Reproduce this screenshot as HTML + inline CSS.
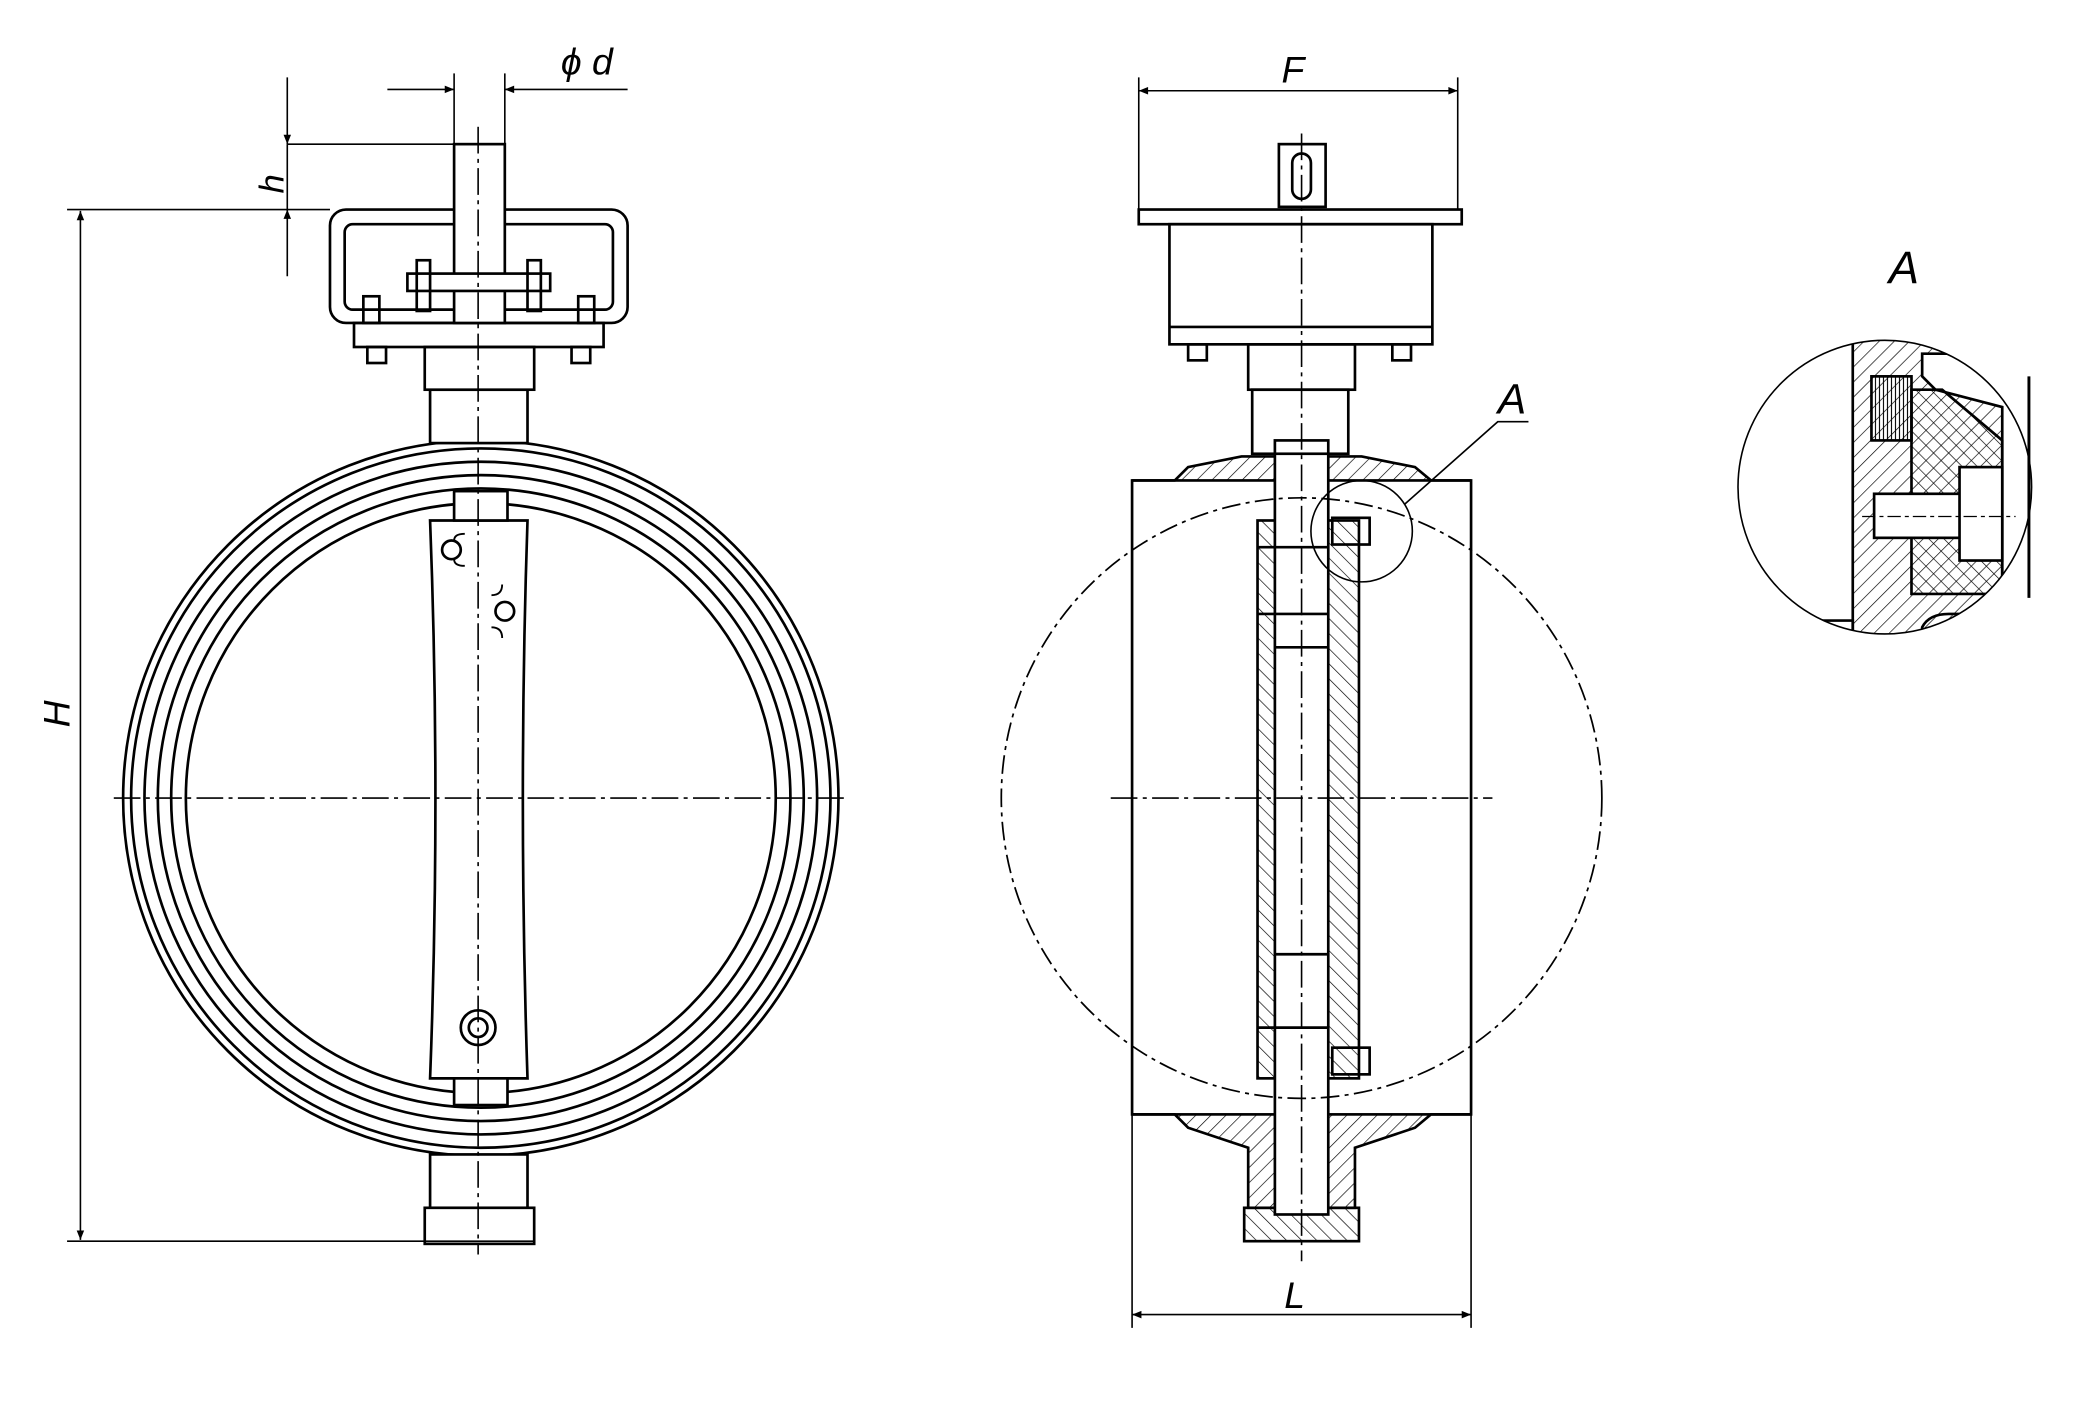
<!DOCTYPE html>
<html><head><meta charset="utf-8"><style>
html,body{margin:0;padding:0;background:#fff;}
svg{display:block;}
text{font-family:"Liberation Sans",sans-serif;font-style:italic;fill:#000;}
</style></head><body>
<svg width="2092" height="1404" viewBox="0 0 1567 1052" xmlns="http://www.w3.org/2000/svg">
<defs>
<pattern id="h1" width="8" height="8" patternUnits="userSpaceOnUse" patternTransform="rotate(45)"><line x1="0" y1="0" x2="0" y2="8" stroke="#000" stroke-width="1"/></pattern>
<pattern id="h2" width="8" height="8" patternUnits="userSpaceOnUse" patternTransform="rotate(-45)"><line x1="0" y1="0" x2="0" y2="8" stroke="#000" stroke-width="1"/></pattern>
<pattern id="hv" width="3" height="8" patternUnits="userSpaceOnUse"><line x1="1" y1="0" x2="1" y2="8" stroke="#000" stroke-width="0.8"/></pattern>
<marker id="ar" viewBox="0 0 10 10" refX="10" refY="5" markerWidth="18" markerHeight="7" markerUnits="userSpaceOnUse" orient="auto-start-reverse"><path d="M0,1 L10,5 L0,9 z" fill="#000"/></marker>
<clipPath id="dc"><circle cx="1412" cy="365" r="110"/></clipPath>
</defs>
<rect width="1567" height="1052" fill="#fff"/>
<g fill="none" stroke="#000" stroke-width="2">
<!-- LEFT VIEW -->
<circle cx="360" cy="598" r="268"/>
<circle cx="360" cy="598" r="262"/>
<circle cx="360" cy="598" r="252"/>
<circle cx="360" cy="598" r="242"/>
<circle cx="360" cy="598" r="232"/>
<circle cx="360" cy="598" r="221"/>
<rect x="322" y="292" width="73" height="40" fill="#fff"/>
<rect x="318" y="260" width="82" height="32" fill="#fff"/>
<rect x="265" y="242" width="187" height="18"/>
<rect x="247" y="157" width="223" height="85" rx="12"/>
<rect x="258" y="168" width="201" height="64" rx="6"/>
<rect x="340" y="108" width="38" height="134" fill="#fff"/>
<rect x="305" y="205" width="107" height="13" fill="#fff"/>
<rect x="312" y="195" width="10" height="38"/><rect x="395" y="195" width="10" height="38"/>
<rect x="272" y="222" width="12" height="20"/><rect x="433" y="222" width="12" height="20"/>
<rect x="275" y="260" width="14" height="12"/><rect x="428" y="260" width="14" height="12"/>
<path d="M322,390 L395,390 Q388,598 395,808 L322,808 Q330,598 322,390 Z" fill="#fff"/>
<rect x="340" y="368" width="40" height="22" fill="#fff"/>
<rect x="340" y="808" width="40" height="20" fill="#fff"/>
<circle cx="338" cy="412" r="7"/><circle cx="378" cy="458" r="7"/>
<path d="M348,400 q-8,0 -8,5 M348,424 q-8,0 -8,-5 M368,446 q8,0 8,-8 M368,470 q8,0 8,8" stroke-width="1.4"/>
<circle cx="358" cy="770" r="13"/><circle cx="358" cy="770" r="7"/>
<rect x="322" y="865" width="73" height="40" fill="#fff"/>
<rect x="318" y="905" width="82" height="27" fill="#fff"/>
<!-- MIDDLE VIEW -->
<rect x="848" y="360" width="254" height="475"/>
<path d="M848,360 L880,360 L890,350 L930,342 L1020,342 L1060,350 L1072,360 L1102,360" fill="url(#h1)"/>
<path d="M848,835 L880,835 L890,845 L935,860 L935,905 L1015,905 L1015,860 L1060,845 L1072,835 L1102,835" fill="url(#h1)"/>
<rect x="932" y="905" width="86" height="25" fill="url(#h2)"/>
<rect x="942" y="390" width="76" height="418" fill="url(#h2)"/>
<rect x="955" y="330" width="40" height="580" fill="#fff"/>
<line x1="955" y1="485" x2="995" y2="485"/><line x1="955" y1="715" x2="995" y2="715"/>
<rect x="853" y="157" width="242" height="11"/>
<rect x="876" y="168" width="197" height="90"/>
<line x1="876" y1="245" x2="1073" y2="245"/>
<rect x="958" y="108" width="35" height="47"/>
<rect x="968" y="115" width="14" height="34" rx="7"/>
<rect x="935" y="258" width="80" height="34"/>
<rect x="938" y="292" width="72" height="48"/>
<rect x="890" y="258" width="14" height="12"/><rect x="1043" y="258" width="14" height="12"/>
<line x1="942" y1="410" x2="995" y2="410"/><line x1="942" y1="460" x2="995" y2="460"/><line x1="942" y1="770" x2="995" y2="770"/>
<circle cx="975" cy="598" r="225" stroke-dasharray="14,4,3,4" stroke-width="1.3"/>
<circle cx="1020" cy="398" r="38" stroke-width="1.2"/>
<polyline points="1052,378 1122,316 1145,316" stroke-width="1.2"/>
<rect x="998" y="388" width="28" height="20"/><rect x="998" y="785" width="28" height="20"/>
<!-- DETAIL -->
<g clip-path="url(#dc)">
<path d="M1388,230 L1388,490 L1435,490 L1490,450 L1500,440 L1500,305 L1450,292 L1440,282 L1440,265 L1540,265 L1540,230 Z" fill="url(#h1)"/>
<rect x="1402" y="282" width="30" height="48" fill="url(#hv)"/>
<path d="M1432,292 L1455,292 L1500,330 L1500,445 L1432,445 Z" fill="url(#h2)"/>
<rect x="1404" y="370" width="66" height="33" fill="#fff"/>
<rect x="1468" y="350" width="32" height="70" fill="#fff"/>
<path d="M1330,465 L1388,465 L1388,490 M1440,490 L1440,470 Q1445,460 1460,460 L1480,460 L1480,490" />
<line x1="1395" y1="387" x2="1510" y2="387" stroke-width="1" stroke-dasharray="10,3,3,3"/>
</g>
<circle cx="1412" cy="365" r="110" stroke-width="1.2"/>
<line x1="1520" y1="282" x2="1520" y2="448" stroke-width="2.2"/>
</g>
<!-- centerlines -->
<g stroke="#000" stroke-width="1.2" stroke-dasharray="20,4,3,4" fill="none">
<line x1="85" y1="598" x2="635" y2="598"/>
<line x1="358" y1="95" x2="358" y2="940"/>
<line x1="832" y1="598" x2="1118" y2="598"/>
<line x1="975" y1="100" x2="975" y2="945"/>
</g>
<!-- dimensions -->
<g stroke="#000" stroke-width="1.2" fill="none">
<line x1="50" y1="157" x2="247" y2="157"/>
<line x1="50" y1="930" x2="400" y2="930"/>
<line x1="60" y1="158" x2="60" y2="929" marker-start="url(#ar)" marker-end="url(#ar)"/>
<line x1="215" y1="108" x2="378" y2="108"/>
<line x1="215" y1="58" x2="215" y2="108" marker-end="url(#ar)"/>
<line x1="215" y1="207" x2="215" y2="157" marker-end="url(#ar)"/>
<line x1="215" y1="108" x2="215" y2="157"/>
<line x1="340" y1="55" x2="340" y2="108"/><line x1="378" y1="55" x2="378" y2="108"/>
<line x1="290" y1="67" x2="340" y2="67" marker-end="url(#ar)"/>
<line x1="470" y1="67" x2="378" y2="67" marker-end="url(#ar)"/>
<line x1="853" y1="58" x2="853" y2="157"/><line x1="1092" y1="58" x2="1092" y2="157"/>
<line x1="853" y1="68" x2="1092" y2="68" marker-start="url(#ar)" marker-end="url(#ar)"/>
<line x1="848" y1="835" x2="848" y2="995"/><line x1="1102" y1="835" x2="1102" y2="995"/>
<line x1="848" y1="985" x2="1102" y2="985" marker-start="url(#ar)" marker-end="url(#ar)"/>
</g>
<text x="0" y="0" font-size="28" transform="translate(52,545) rotate(-90)">H</text>
<text x="0" y="0" font-size="26" transform="translate(212,145) rotate(-90)">h</text>
<text x="420" y="56" font-size="28">ϕ d</text>
<text x="960" y="62" font-size="28">F</text>
<text x="962" y="980" font-size="28">L</text>
<text x="1122" y="310" font-size="32">A</text>
<text x="1415" y="212" font-size="34">A</text>
</svg>
</body></html>
